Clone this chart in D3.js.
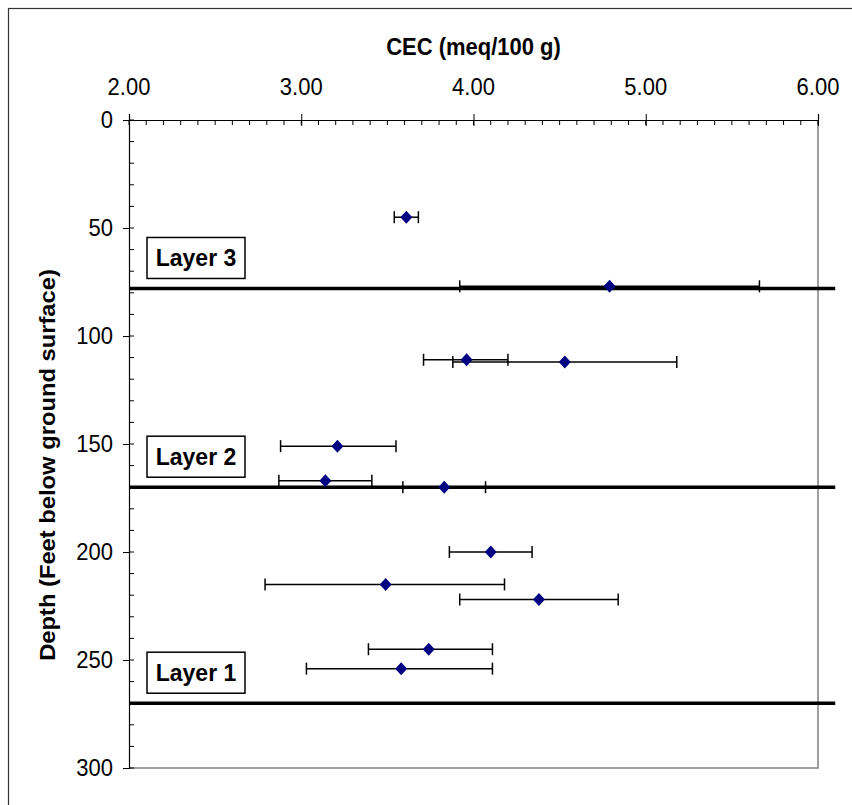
<!DOCTYPE html>
<html><head><meta charset="utf-8">
<script src="https://cdn.jsdelivr.net/npm/d3@7"></script>
<style>body{margin:0;background:#fff}svg{display:block}text{font-family:"Liberation Sans",Arial,sans-serif;fill:#000}</style>
</head><body>
<svg id="c" width="852" height="805"></svg>
<script>
const cecValues = [3.61, 4.79, 3.96, 4.53, 3.21, 3.14, 3.83, 4.10, 3.49, 4.38, 3.74, 3.58];
const depths    = [45, 77, 111, 112, 151, 167, 170, 200, 215, 222, 245, 254];
const errLow    = [3.54, 3.92, 3.71, 3.88, 2.88, 2.87, 3.59, 3.86, 2.79, 3.92, 3.39, 3.03];
const errHigh   = [3.68, 5.66, 4.20, 5.18, 3.55, 3.41, 4.07, 4.34, 4.18, 4.84, 4.11, 4.11];
const layerDepths = [78, 170, 270];
const layerNames  = ["Layer 3", "Layer 2", "Layer 1"];
const xTicks = [2, 3, 4, 5, 6];
const yTicks = [0, 50, 100, 150, 200, 250, 300];
const xTitle = "CEC (meq/100 g)";
const yTitle = "Depth (Feet below ground surface)";

const svg = d3.select("#c");
const L = 129, R = 818, T = 120, B = 768;
const K = 1.08; // slight vertical stretch of the text
const x = d3.scaleLinear().domain([2, 6]).range([L, R]);
const y = d3.scaleLinear().domain([0, 300]).range([T, B]);

// outer border
svg.append("rect").attr("x", 8.5).attr("y", 8.5).attr("width", 900).attr("height", 900)
  .attr("fill", "none").attr("stroke", "#333").attr("stroke-width", 1.2);

// plot area right/bottom border
svg.append("path").attr("d", `M${R},${T}V${B}H${L}`).attr("fill", "none")
  .attr("stroke", "#808080").attr("stroke-width", 1.5);

// x axis (top)
const xMinor = d3.range(2, 6.0001, 0.1);
svg.append("g").selectAll("line").data(xMinor).join("line")
  .attr("x1", d => x(d)).attr("x2", d => x(d)).attr("y1", T).attr("y2", T + 5)
  .attr("stroke", "#000").attr("stroke-width", 1);
const xAxis = svg.append("g").attr("transform", `translate(0,${T})`)
  .call(d3.axisTop(x).tickValues(xTicks).tickFormat("").tickSize(6));
xAxis.select(".domain").attr("stroke", "#000").attr("stroke-width", 1.2);
xAxis.selectAll(".tick line").attr("y2", 6).attr("y1", -6).attr("stroke-width", 1);
svg.append("g").selectAll("text").data(xTicks).join("text")
  .attr("transform", d => `translate(${x(d)},${95}) scale(1,${K})`)
  .attr("text-anchor", "middle").attr("font-size", 22).text(d3.format(".2f"));

// y axis
const yMinor = d3.range(0, 301, 10);
svg.append("g").selectAll("line").data(yMinor).join("line")
  .attr("x1", L).attr("x2", L + 5).attr("y1", d => y(d)).attr("y2", d => y(d))
  .attr("stroke", "#000").attr("stroke-width", 1);
const yAxis = svg.append("g").attr("transform", `translate(${L},0)`)
  .call(d3.axisLeft(y).tickValues(yTicks).tickFormat("").tickSize(6));
yAxis.select(".domain").attr("stroke", "#000").attr("stroke-width", 1.2);
yAxis.selectAll(".tick line").attr("x1", 0).attr("x2", -6).attr("stroke-width", 1);
svg.append("g").selectAll("text").data(yTicks).join("text")
  .attr("transform", d => `translate(${L - 16},${y(d) + 8}) scale(1,${K})`)
  .attr("text-anchor", "end").attr("font-size", 22).text(d => d);

// titles
svg.append("text").attr("transform", `translate(${(L + R) / 2},55) scale(1,${K})`)
  .attr("text-anchor", "middle").attr("font-size", 22).attr("font-weight", "bold").text(xTitle);
svg.append("text").attr("transform", `translate(55,465) scale(1,${K}) rotate(-90)`)
  .attr("text-anchor", "middle").attr("font-size", 22).attr("font-weight", "bold").text(yTitle);

// layer boundary lines
svg.append("g").selectAll("line").data(layerDepths).join("line")
  .attr("x1", x(2)).attr("x2", x(6.1)).attr("y1", d => y(d)).attr("y2", d => y(d))
  .attr("stroke", "#000").attr("stroke-width", 3.5);

// layer labels
const lab = svg.append("g").selectAll("g").data(layerDepths).join("g")
  .attr("transform", d => `translate(${L + 18},${y(d) - 10 - 41})`);
lab.append("rect").attr("width", 98).attr("height", 41).attr("fill", "#fff")
  .attr("stroke", "#000").attr("stroke-width", 1.5);
lab.append("text").attr("transform", `translate(49,29) scale(1,${K})`).attr("text-anchor", "middle")
  .attr("font-size", 23).attr("font-weight", "bold").text((d, i) => layerNames[i]);

// error bars
const pts = cecValues.map((v, i) => ({v, d: depths[i], lo: errLow[i], hi: errHigh[i]}));
const eb = svg.append("g").attr("stroke", "#000").attr("stroke-width", 1.5);
eb.selectAll("line.h").data(pts).join("line").attr("class", "h")
  .attr("x1", p => x(p.lo)).attr("x2", p => x(p.hi)).attr("y1", p => y(p.d)).attr("y2", p => y(p.d));
eb.selectAll("line.l").data(pts).join("line").attr("class", "l")
  .attr("x1", p => x(p.lo)).attr("x2", p => x(p.lo)).attr("y1", p => y(p.d) - 6).attr("y2", p => y(p.d) + 6);
eb.selectAll("line.r").data(pts).join("line").attr("class", "r")
  .attr("x1", p => x(p.hi)).attr("x2", p => x(p.hi)).attr("y1", p => y(p.d) - 6).attr("y2", p => y(p.d) + 6);

// diamonds
svg.append("g").selectAll("path").data(pts).join("path")
  .attr("transform", p => `translate(${x(p.v)},${y(p.d)})`)
  .attr("d", "M0,-6.5L6,0L0,6.5L-6,0Z").attr("fill", "#000080");
</script>
</body></html>
